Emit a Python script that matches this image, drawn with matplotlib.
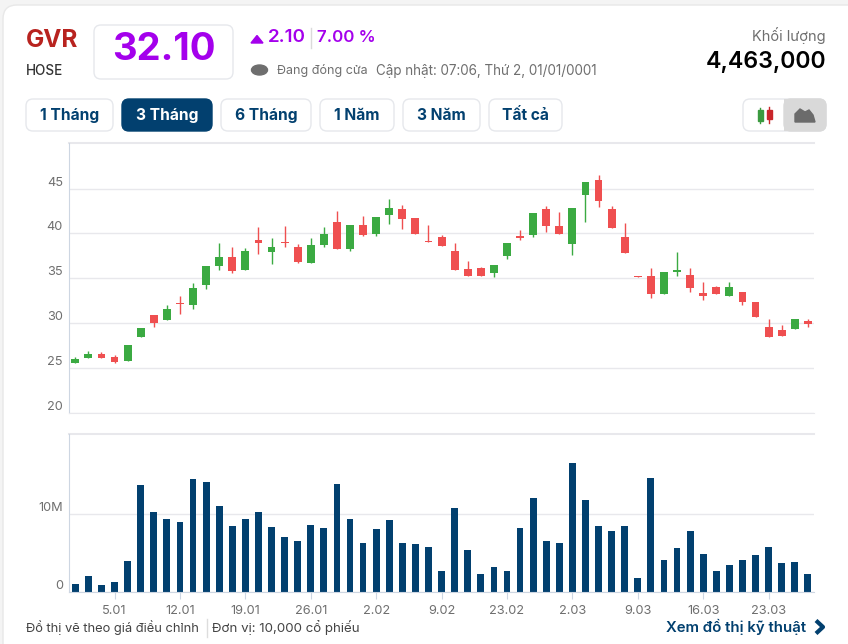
import matplotlib
matplotlib.use("Agg")
import matplotlib.pyplot as plt
from matplotlib.patches import Ellipse, FancyBboxPatch, Polygon, Rectangle

plt.rcParams["font.family"] = ["Inter", "Noto Sans", "DejaVu Sans"]

# 57 phien giao dich
opens = [25.56, 26.15, 26.60, 26.22, 25.82, 28.49, 30.90, 30.31, 32.27, 32.00,
         34.24, 36.32, 37.40, 35.95, 39.22, 37.92, 39.10, 38.51, 36.67, 38.70,
         41.26, 38.22, 40.89, 39.96, 42.00, 42.74, 41.74, 39.11, 39.56, 38.07,
         36.04, 36.10, 35.56, 37.52, 39.70, 39.85, 42.74, 40.85, 38.85, 44.30,
         46.00, 42.70, 39.63, 35.26, 35.26, 33.30, 35.67, 35.37, 33.40, 34.05,
         33.05, 33.50, 32.37, 29.58, 29.26, 29.30, 30.26]
closes = [26.00, 26.60, 26.15, 25.67, 27.60, 29.42, 29.97, 31.60, 32.13, 33.95,
          36.40, 37.40, 35.84, 37.99, 38.92, 38.51, 38.92, 36.80, 38.70, 39.93,
          38.22, 40.89, 39.81, 41.85, 42.85, 41.63, 39.96, 39.00, 38.60, 35.93,
          35.30, 35.30, 36.52, 38.96, 39.44, 42.26, 40.81, 39.93, 42.80, 45.74,
          43.60, 40.55, 37.78, 35.18, 33.30, 35.74, 35.89, 33.93, 33.05, 33.28,
          34.00, 32.40, 30.65, 28.44, 28.56, 30.48, 29.89]
highs = [26.22, 26.86, 26.82, 26.48, 27.60, 29.42, 30.90, 31.98, 32.98, 34.43,
         36.40, 38.88, 38.51, 38.36, 40.74, 39.48, 40.85, 38.85, 39.44, 40.67,
         42.48, 40.89, 41.89, 41.85, 43.85, 43.11, 41.74, 40.93, 39.81, 38.93,
         36.89, 36.22, 36.52, 38.96, 40.41, 42.26, 43.00, 42.37, 42.80, 45.74,
         46.48, 43.00, 41.11, 35.26, 36.15, 35.74, 37.96, 36.15, 34.55, 34.12,
         34.55, 33.50, 32.37, 30.44, 29.80, 30.48, 30.48]
lows = [25.56, 26.15, 26.15, 25.56, 25.82, 28.49, 29.60, 30.31, 31.05, 31.57,
        33.76, 35.88, 35.62, 35.95, 37.66, 36.58, 38.51, 36.69, 36.67, 38.44,
        38.22, 38.00, 39.70, 39.70, 41.07, 40.52, 39.96, 39.00, 38.60, 35.93,
        35.30, 35.30, 35.19, 37.15, 39.22, 39.56, 40.19, 39.93, 37.60, 41.26,
        42.90, 40.55, 37.78, 35.18, 32.85, 33.30, 35.22, 33.48, 32.56, 33.28,
        33.05, 31.98, 30.65, 28.44, 28.56, 29.30, 29.63]
volumes = [1.03, 2.05, 0.90, 1.32, 4.00, 13.76, 10.26, 9.40, 8.97, 14.50,
           14.20, 11.07, 8.55, 9.40, 10.26, 8.38, 7.14, 6.58, 8.68, 8.25,
           13.90, 9.40, 6.28, 8.12, 9.27, 6.28, 6.15, 5.85, 2.74, 10.80,
           5.43, 2.35, 3.20, 2.74, 8.25, 12.05, 6.58, 6.28, 16.60, 11.80,
           8.55, 7.82, 8.55, 1.80, 14.60, 4.15, 5.73, 7.82, 4.87, 2.74,
           3.46, 4.15, 4.74, 5.85, 3.72, 3.90, 2.35]

date_ticks = [3, 8, 13, 18, 23, 28, 33, 38, 43, 48, 53]
date_labels = ["5.01", "12.01", "19.01", "26.01", "2.02", "9.02", "23.02", "2.03", "9.03", "16.03", "23.03"]
price_ticks = [20, 25, 30, 35, 40, 45]
volume_ticks = [0, 10]
volume_labels = ["0", "10M"]
range_buttons = ["1 Tháng", "3 Tháng", "6 Tháng", "1 Năm", "3 Năm", "Tất cả"]

GREEN = "#3BAA42"
RED = "#EF4F50"
NAVY = "#02406F"
PURPLE = "#A400EC"
GREY = "#6F6F6F"
GRID = "#E8E8EC"
SPINE = "#CDD6E2"
W, H = 848, 644


def chart_axes(fig, left, top, right, bottom):
    ax = fig.add_axes([left / W, 1 - bottom / H, (right - left) / W, (bottom - top) / H])
    ax.set_facecolor("none")
    ax.set_xlim(-0.52, 56.47)
    ax.set_axisbelow(True)
    ax.grid(axis="y", color=GRID, linewidth=1)
    for side in ["top", "right"]:
        ax.spines[side].set_visible(False)
    ax.spines["left"].set_color(SPINE)
    return ax


def round_box(bg, x0, y0, x1, y1, face="white", edge="#E6E8EC", r=7):
    bg.add_patch(FancyBboxPatch((x0, y0), x1 - x0, y1 - y0, boxstyle=f"round,pad=0,rounding_size={r}",
                                facecolor=face, edgecolor=edge, linewidth=1))


def draw_header(bg):
    round_box(bg, 3, 5, 870, 670, edge="#E8E8E8", r=14)
    bg.text(26, 40, "GVR", color="#B8231F", fontsize=17.5, fontweight="bold", va="center")
    bg.text(26, 71, "HOSE", color="#333333", fontsize=9.7, fontweight="medium", va="center")
    round_box(bg, 94, 25, 233, 79)
    bg.text(164, 50, "32.10", color=PURPLE, fontsize=27.5, fontweight="bold", ha="center", va="center")
    bg.add_patch(Polygon([[251, 43], [263, 43], [257, 35.5]], color=PURPLE))
    bg.text(268, 37, "2.10", color=PURPLE, fontsize=13.5, fontweight="semibold", va="center")
    bg.plot([311, 311], [28, 48], color="#DADADA", linewidth=1)
    bg.text(317, 37, "7.00 %", color=PURPLE, fontsize=12.2, fontweight="semibold", va="center")
    bg.add_patch(Ellipse((259.5, 70), 16, 10, color="#6E6E6E"))
    bg.text(277, 70.5, "Đang đóng cửa", color=GREY, fontsize=9, va="center")
    bg.text(376, 70.5, "Cập nhật: 07:06, Thứ 2, 01/01/0001", color=GREY, fontsize=9.7, va="center")
    bg.text(826, 35, "Khối lượng", color=GREY, fontsize=10.5, ha="right", va="center")
    bg.text(826, 62, "4,463,000", color="black", fontsize=16.7, fontweight="semibold", ha="right", va="center")


def draw_buttons(bg):
    spans = [(26, 113), (122, 212), (221, 311), (320, 394), (403, 480), (489, 562)]
    for label, (x0, x1) in zip(range_buttons, spans):
        active = label == "3 Tháng"
        round_box(bg, x0, 99, x1, 131, face=NAVY if active else "white", edge=NAVY if active else "#E6E8EC")
        bg.text((x0 + x1) / 2, 115, label, color="white" if active else NAVY,
                fontsize=11.2, fontweight="bold", ha="center", va="center")
    # nut chuyen kieu do thi
    round_box(bg, 743, 99, 826, 131)
    bg.add_patch(FancyBboxPatch((784, 99), 42, 32, boxstyle="round,pad=0,rounding_size=7",
                                facecolor="#D9D9D9", edgecolor="#D9D9D9"))
    bg.add_patch(Rectangle((784, 99), 10, 32, facecolor="#D9D9D9", edgecolor="none"))
    bg.plot([760, 760], [108, 123], color="#3A9A3F", linewidth=1)
    bg.add_patch(Rectangle((757.5, 110), 5, 11, color="#3A9A3F"))
    bg.plot([769, 769], [107, 123], color="#C9252A", linewidth=1)
    bg.add_patch(Rectangle((766.5, 110), 5, 9, color="#C9252A"))
    bg.add_patch(Polygon([[795, 122], [795, 114], [800, 109], [805, 112], [809, 110], [813, 115], [815, 122]],
                         color="#6B6B6B"))


def draw_footer(bg):
    bg.text(26, 627.5, "Đồ thị vẽ theo giá điều chỉnh", color="#444444", fontsize=9.3, va="center")
    bg.plot([207, 207], [619, 637], color="#DDDDDD", linewidth=1)
    bg.text(212, 627.5, "Đơn vị: 10,000 cổ phiếu", color="#444444", fontsize=9.6, va="center")
    bg.text(666, 627, "Xem đồ thị kỹ thuật", color=NAVY, fontsize=10.8, fontweight="semibold", va="center")
    bg.plot([816, 823, 816], [620.5, 627, 633.5], color=NAVY, linewidth=3, solid_capstyle="butt")


def draw_price(ax):
    x = range(len(opens))
    colors = [GREEN if c >= o else RED for o, c in zip(opens, closes)]
    bottoms = [min(o, c) for o, c in zip(opens, closes)]
    heights = [abs(c - o) for o, c in zip(opens, closes)]
    ax.vlines(x, lows, highs, colors=colors, linewidth=1)
    ax.bar(x, heights, width=0.6, bottom=bottoms, color=colors, linewidth=0)
    ax.set_ylim(20, 50.07)
    ax.set_yticks(price_ticks)
    ax.set_xticks([])
    ax.spines["bottom"].set_color(GRID)
    ax.tick_params(axis="y", length=0, pad=4, labelsize=9.2, labelcolor=GREY)
    for lab in ax.get_yticklabels():
        lab.set_verticalalignment("bottom")


def draw_volume(ax):
    ax.bar(range(len(volumes)), volumes, width=0.52, color=NAVY, linewidth=0)
    ax.set_ylim(0, 20.3)
    ax.set_yticks(volume_ticks)
    ax.set_yticklabels(volume_labels)
    ax.set_xticks(date_ticks)
    ax.set_xticklabels(date_labels)
    ax.spines["bottom"].set_color(SPINE)
    ax.tick_params(axis="y", length=0, pad=4, labelsize=9.2, labelcolor=GREY)
    ax.tick_params(axis="x", length=5, color=SPINE, pad=4, labelsize=9.2, labelcolor=GREY)
    for lab in ax.get_yticklabels():
        lab.set_verticalalignment("bottom")
    # duong tren cung cua khung
    ax.axhline(20.3, color=GRID, linewidth=1.5, clip_on=False)


def main():
    fig = plt.figure(figsize=(W / 100, H / 100), dpi=100, facecolor="#F4F4F4")
    bg = fig.add_axes([0, 0, 1, 1])
    bg.set_xlim(0, W)
    bg.set_ylim(H, 0)
    bg.axis("off")
    draw_header(bg)
    draw_buttons(bg)
    draw_footer(bg)

    price_ax = chart_axes(fig, 68.5, 143, 814, 413)
    price_ax.axhline(50.07, color=GRID, linewidth=1.5, clip_on=False)
    draw_price(price_ax)
    vol_ax = chart_axes(fig, 68.5, 434, 814, 592.3)
    draw_volume(vol_ax)

    fig.savefig("out.png", dpi=100, facecolor=fig.get_facecolor())
    plt.close(fig)


if __name__ == "__main__":
    main()
